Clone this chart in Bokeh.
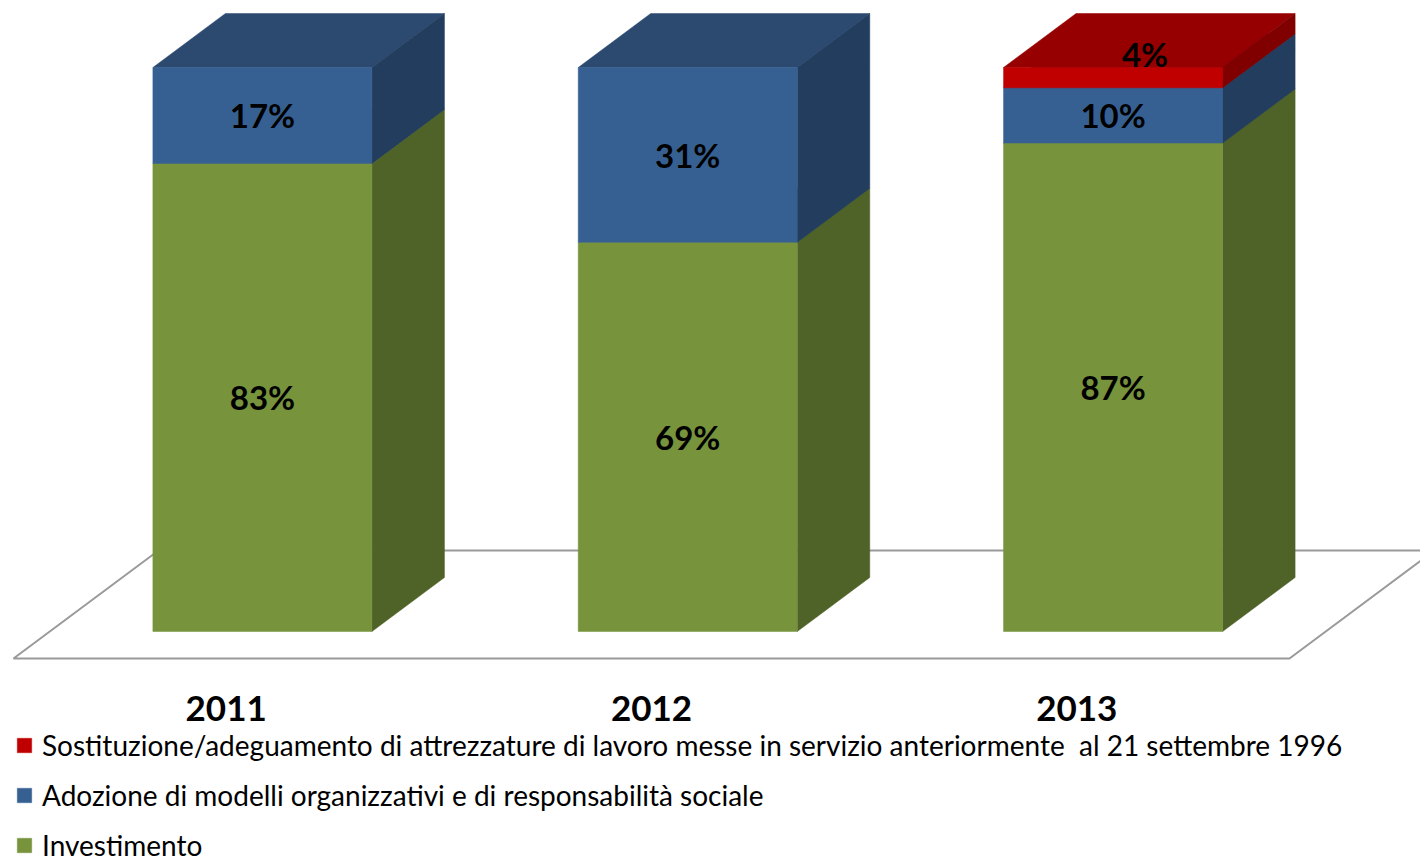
from bokeh.plotting import figure
from bokeh.models import Range1d, Legend, LegendItem
from bokeh.core.properties import value
from bokeh.embed import file_html
from bokeh.resources import INLINE

# ---------------- data ----------------
years = ["2011", "2012", "2013"]
investimento = [83.0, 69.0, 86.6]
adozione = [17.0, 31.0, 9.8]
sostituzione = [0.0, 0.0, 3.6]

series_names = [
    "Investimento",
    "Adozione di modelli organizzativi e di responsabilità sociale",
    "Sostituzione/adeguamento di attrezzature di lavoro messe in servizio anteriormente  al 21 settembre 1996",
]
series_values = [investimento, adozione, sostituzione]
front_colors = ["#77933C", "#376092", "#C00000"]
side_colors = ["#4F6228", "#233D5E", "#800000"]
top_colors = ["#61782F", "#2C4A70", "#960000"]

# ---------------- geometry (styles / layout) ----------------
W, H = 1420, 864
PX_PER_CAT = 425.33
PX_PER_PCT = 5.64
FLOOR_LEFT_PX = 13
BASE_PX = 658
DEPTH_X = 145 / PX_PER_CAT      # full floor depth in category units
DEPTH_Y = 108 / PX_PER_PCT      # full floor depth in percent units
BAR_Z0, BAR_Z1 = 0.25, 0.75
BAR_W = 0.515
FONT = "Lato"


def proj(x, y, z):
    return x + z * DEPTH_X, y + z * DEPTH_Y


p = figure(
    width=W, height=H, output_backend="svg", toolbar_location=None,
    x_range=Range1d(-FLOOR_LEFT_PX / PX_PER_CAT, (W - FLOOR_LEFT_PX) / PX_PER_CAT),
    y_range=Range1d(-(H - BASE_PX) / PX_PER_PCT, BASE_PX / PX_PER_PCT),
    min_border=0, outline_line_color=None,
)
p.axis.visible = False
p.xgrid.visible = False
p.ygrid.visible = False
p.background_fill_color = "white"
p.border_fill_color = "white"

# floor
n = len(years)
floor_pts = [proj(0, 0, 0), proj(n, 0, 0), proj(n, 0, 1), proj(0, 0, 1)]
p.patch([q[0] for q in floor_pts], [q[1] for q in floor_pts],
        fill_color="white", line_color="#9A9A9A", line_width=2)

# bars, level by level (painter's order)
bottoms = [0.0] * n
front_renderers = []
labels_x, labels_y, labels_t = [], [], []
for k, vals in enumerate(series_values):
    fl, fr, fb, ft = [], [], [], []
    sxs, sys_, txs, tys = [], [], [], []
    for i, v in enumerate(vals):
        y0 = bottoms[i]
        y1 = y0 + v
        bottoms[i] = y1
        if v <= 0:
            continue
        cx = i + 0.5
        L, R = cx - BAR_W / 2, cx + BAR_W / 2
        a = proj(L, y0, BAR_Z0)
        b = proj(R, y1, BAR_Z0)
        fl.append(a[0]); fr.append(b[0]); fb.append(a[1]); ft.append(b[1])
        side = [proj(R, y0, BAR_Z0), proj(R, y1, BAR_Z0), proj(R, y1, BAR_Z1), proj(R, y0, BAR_Z1)]
        sxs.append([q[0] for q in side]); sys_.append([q[1] for q in side])
        top = [proj(L, y1, BAR_Z0), proj(R, y1, BAR_Z0), proj(R, y1, BAR_Z1), proj(L, y1, BAR_Z1)]
        txs.append([q[0] for q in top]); tys.append([q[1] for q in top])
        zlab = BAR_Z0 if v >= 6 else (BAR_Z0 + BAR_Z1) / 2 - 0.03
        lx, ly = proj(cx, (y0 + y1) / 2, zlab)
        labels_x.append(lx); labels_y.append(ly); labels_t.append(f"{round(v)}%")
    p.patches(txs, tys, fill_color=top_colors[k], line_color=top_colors[k], line_width=0.5)
    p.patches(sxs, sys_, fill_color=side_colors[k], line_color=side_colors[k], line_width=0.5)
    r = p.quad(left=fl, right=fr, bottom=fb, top=ft, fill_color=front_colors[k],
               line_color=front_colors[k], line_width=0.5)
    front_renderers.append(r)

# value labels
p.text(x=labels_x, y=labels_y, text=labels_t, text_font=value(FONT), text_font_style="bold",
       text_font_size="33px", text_color="black", text_align="center", text_baseline="middle")

# category labels (front edge of the floor)
cat_y = -50 / PX_PER_PCT
p.text(x=[i + 0.5 for i in range(n)], y=[cat_y] * n, text=years, text_font=value(FONT),
       text_font_style="bold", text_font_size="35px", text_color="black",
       text_align="center", text_baseline="middle")

# legend
items = [LegendItem(label=series_names[k], renderers=[front_renderers[k]]) for k in (2, 1, 0)]
legend = Legend(items=items, location=(15, 2), orientation="vertical",
                padding=0, margin=0, border_line_alpha=0, background_fill_alpha=0,
                glyph_width=18, glyph_height=18, label_standoff=9,
                label_text_font=FONT, label_text_font_size="28px", label_text_color="black",
                label_height=34, spacing=16)
p.add_layout(legend)

open("out.html", "w").write(file_html(p, INLINE))
